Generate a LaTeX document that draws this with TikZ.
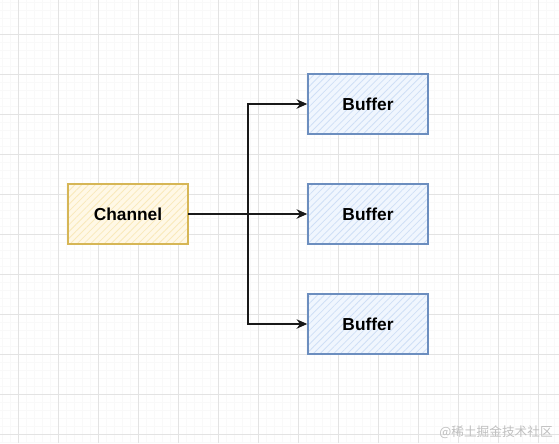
\documentclass[tikz,border=0pt]{standalone}
\usepackage{fontspec}
\setmainfont{Liberation Sans}
\newfontfamily\cjk{Noto Sans CJK SC}
\usepackage{xcolor}
\usetikzlibrary{positioning,patterns.meta,arrows.meta}

\definecolor{chanline}{HTML}{D6B656}
\definecolor{chanfill}{HTML}{FFF2CC}
\definecolor{bufline}{HTML}{6C8EBF}
\definecolor{buffill}{HTML}{DAE8FC}
\definecolor{gridmajor}{HTML}{E3E3E3}
\definecolor{gridminor}{HTML}{F9F9F9}

\tikzset{
    box/.style={draw,line width=1.1pt,minimum width=90pt,minimum height=45pt,
        font=\fontsize{13}{15}\selectfont\bfseries},
    chanbox/.style={box,draw=chanline,preaction={fill=chanfill!50},
        pattern={Lines[angle=45,distance=3.6pt,line width=0.6pt]},pattern color=chanfill!85!chanline},
    bufbox/.style={box,draw=bufline,preaction={fill=buffill!40},
        pattern={Lines[angle=45,distance=3.6pt,line width=0.6pt]},pattern color=buffill!90!bufline},
    link/.style={line width=1.1pt,draw=black!90},
    tip/.style={-{Stealth[length=8pt,width=7pt]}}
}

\begin{document}
\begin{tikzpicture}[x=0.75pt,y=-0.75pt]
    \useasboundingbox (0,0) rectangle (559,443);
    \fill[white] (0,0) rectangle (559,443);

    % background grid
    \foreach \gx in {2,10,...,558} \draw[gridminor,line width=0.5pt] (\gx,0) -- (\gx,443);
    \foreach \gy in {2,10,...,442} \draw[gridminor,line width=0.5pt] (0,\gy) -- (559,\gy);
    \foreach \gx in {18,58,...,558} \draw[gridmajor,line width=0.75pt] (\gx,0) -- (\gx,443);
    \foreach \gy in {34,74,...,442} \draw[gridmajor,line width=0.75pt] (0,\gy) -- (559,\gy);

    % source and buffers
    \node[chanbox] (chan) at (128,214) {Channel};
    \node[bufbox] (buf1) at (368,104) {Buffer};
    \node[bufbox] (buf2) at (368,214) {Buffer};
    \node[bufbox] (buf3) at (368,324) {Buffer};

    % fan-out
    \coordinate (split) at (248,214);
    \draw[link] (chan.east) -- (split);
    \draw[link,tip] (split) |- (buf1.west);
    \draw[link,tip] (split) -- (buf2.west);
    \draw[link,tip] (split) |- (buf3.west);

    \node[anchor=east,text=black!25,font=\cjk\fontsize{9.5}{11}\selectfont,inner sep=0pt] (wm) at (553,432) {@稀土掘金技术社区};
\end{tikzpicture}
\end{document}
